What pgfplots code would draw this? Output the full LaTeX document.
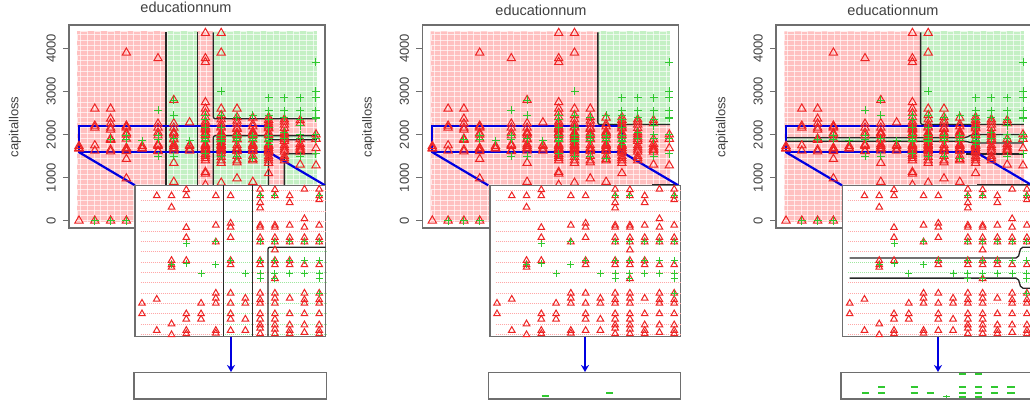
\documentclass[border=0pt]{standalone}
\usepackage{fontspec}
\setmainfont{Liberation Sans}
\usepackage{pgfplots}
\usepackage{pgfplotstable}
\pgfplotsset{compat=1.18}
\usetikzlibrary{arrows.meta}

\definecolor{palered}{HTML}{FFC0C0}
\definecolor{palegreen}{HTML}{C4F0C4}
\definecolor{rowred}{HTML}{FFA8A8}
\definecolor{rowgreen}{HTML}{A0E8A0}
\definecolor{ptred}{HTML}{EE2424}
\definecolor{ptgreen}{HTML}{30C830}
\definecolor{frame}{HTML}{6E6E6E}
\definecolor{txt}{HTML}{404040}
\definecolor{boxblue}{HTML}{0000E0}

% points inside the blue box, read from the enlarged view
\pgfplotstableread{
x y
1 1732
1 1690
2 2159
2 1748
2 1624
3 2159
3 2114
3 1902
3 1885
3 1875
3 1650
3 1607
4 2183
4 2159
4 2033
4 1993
4 1902
4 1690
4 1669
4 1624
4 1611
5 1732
5 1690
5 1669
6 2159
6 2042
6 1976
6 1772
6 1752
6 1732
6 1624
6 1613
7 2159
7 2050
7 2034
7 1993
7 1902
7 1885
7 1772
7 1732
7 1690
7 1669
7 1624
8 1752
8 1732
8 1669
8 1624
9 2185
9 2159
9 2132
9 2111
9 2042
9 2034
9 1993
9 1976
9 1902
9 1885
9 1772
9 1746
9 1732
9 1690
9 1669
9 1646
9 1633
9 1611
10 2183
10 2159
10 2042
10 2034
10 1993
10 1976
10 1944
10 1902
10 1885
10 1830
10 1772
10 1752
10 1732
10 1690
10 1669
10 1646
10 1629
10 1611
11 2159
11 2132
11 2042
11 1993
11 1976
11 1902
11 1885
11 1752
11 1690
11 1646
11 1624
11 1611
12 2185
12 2068
12 2034
12 1993
12 1976
12 1885
12 1772
12 1746
12 1732
12 1690
12 1646
12 1616
13 2185
13 2159
13 2143
13 2042
13 1993
13 1976
13 1885
13 1772
13 1746
13 1732
13 1690
13 1646
13 1624
13 1611
}\bandtri

\pgfplotstableread{
x y
3 1885
4 1971
4 1889
5 1852
6 1976
6 1885
7 1902
8 1852
9 2159
9 1976
9 1902
9 1852
9 1830
10 2159
10 1976
10 1902
10 1852
10 1830
11 1976
11 1902
11 1852
12 1976
12 1902
12 1852
13 2159
13 1976
13 1902
13 1852
13 1830
13 1772
}\bandplus

% points outside the box
\pgfplotstableread{
x y
1 0
1 1670
2 0
2 2600
2 2205
3 0
3 2600
3 2365
3 2256
4 0
4 3900
4 2205
4 1430
4 980
6 3770
6 2250
7 2800
7 2259
7 1340
7 900
8 2280
9 4356
9 3770
9 3680
9 2750
9 2600
9 2500
9 2400
9 2300
9 2250
9 1550
9 1500
9 1450
9 1400
9 1130
9 1090
9 830
10 4356
10 3900
10 2600
10 2450
10 2350
10 2250
10 1560
10 1480
10 1400
10 1340
10 880
11 2600
11 2400
11 2320
11 2250
11 1500
11 1400
11 1350
11 980
12 2390
12 2240
12 1500
12 1430
12 1400
12 900
13 2400
13 2340
13 2280
13 2230
13 1580
13 1500
13 1450
13 1400
13 1340
13 1100
14 2350
14 2300
14 2230
14 2150
14 2050
14 2000
14 1950
14 1900
14 1850
14 1750
14 1700
14 1650
14 1600
14 1500
14 1450
14 1400
15 2330
15 2260
15 1890
15 1780
15 1720
15 1670
15 1640
15 1600
15 1300
16 2000
16 1900
16 1680
16 1280
}\outtri

\pgfplotstableread{
x y
2 0
3 0
4 0
6 2560
6 1500
7 2800
7 2450
7 1500
9 2450
9 2350
9 1550
10 3000
10 2450
10 1500
11 2400
11 1500
12 2450
12 1450
13 2850
13 2550
13 2450
13 2350
14 2850
14 2550
14 2400
14 2050
14 1900
15 2850
15 2550
15 2350
15 2200
15 2000
15 1900
15 1500
16 3680
16 3000
16 2850
16 2550
16 2400
16 2380
16 2000
16 1900
16 1550
}\outplus

% white streaks of the prediction grid
\pgfplotstableread[row sep=\\]{
x y\\
1.10 -25\\1.10 4396\\1.52 4396\\1.52 -25\\1.94 -25\\1.94 4396\\2.36 4396\\2.36 -25\\2.78 -25\\2.78 4396\\
3.20 4396\\3.20 -25\\3.62 -25\\3.62 4396\\4.04 4396\\4.04 -25\\4.46 -25\\4.46 4396\\4.88 4396\\4.88 -25\\
5.30 -25\\5.30 4396\\5.72 4396\\5.72 -25\\6.14 -25\\6.14 4396\\6.56 4396\\6.56 -25\\6.98 -25\\6.98 4396\\
7.40 4396\\7.40 -25\\7.82 -25\\7.82 4396\\8.24 4396\\8.24 -25\\8.66 -25\\8.66 4396\\9.08 4396\\9.08 -25\\
9.50 -25\\9.50 4396\\9.92 4396\\9.92 -25\\10.34 -25\\10.34 4396\\10.76 4396\\10.76 -25\\11.18 -25\\11.18 4396\\
11.60 4396\\11.60 -25\\12.02 -25\\12.02 4396\\12.44 4396\\12.44 -25\\12.86 -25\\12.86 4396\\13.28 4396\\13.28 -25\\
13.70 -25\\13.70 4396\\14.12 4396\\14.12 -25\\14.54 -25\\14.54 4396\\14.96 4396\\14.96 -25\\15.38 -25\\15.38 4396\\
15.80 4396\\15.80 -25\\
}\gridv

\pgfplotstableread[row sep=\\]{
x y\\
0.9 0\\16.05 0\\16.05 120\\0.9 120\\0.9 240\\16.05 240\\16.05 360\\0.9 360\\0.9 480\\16.05 480\\
16.05 600\\0.9 600\\0.9 720\\16.05 720\\16.05 840\\0.9 840\\0.9 960\\16.05 960\\16.05 1080\\0.9 1080\\
0.9 1200\\16.05 1200\\16.05 1320\\0.9 1320\\0.9 1440\\16.05 1440\\16.05 1560\\0.9 1560\\0.9 1680\\16.05 1680\\
16.05 1800\\0.9 1800\\0.9 1920\\16.05 1920\\16.05 2040\\0.9 2040\\0.9 2160\\16.05 2160\\16.05 2280\\0.9 2280\\
0.9 2400\\16.05 2400\\16.05 2520\\0.9 2520\\0.9 2640\\16.05 2640\\16.05 2760\\0.9 2760\\0.9 2880\\16.05 2880\\
16.05 3000\\0.9 3000\\0.9 3120\\16.05 3120\\16.05 3240\\0.9 3240\\0.9 3360\\16.05 3360\\16.05 3480\\0.9 3480\\
0.9 3600\\16.05 3600\\16.05 3720\\0.9 3720\\0.9 3840\\16.05 3840\\16.05 3960\\0.9 3960\\0.9 4080\\16.05 4080\\
16.05 4200\\0.9 4200\\0.9 4320\\16.05 4320\\
}\gridh

% dotted rows of the enlarged view, one table per colour and panel
\pgfplotstableread[row sep=\\]{
x y\\
0.9 2180\\6.5 2180\\nan nan\\8.5 2180\\13.45 2180\\nan nan\\
0.9 2140\\6.5 2140\\nan nan\\8.5 2140\\13.45 2140\\nan nan\\
0.9 2098\\6.5 2098\\nan nan\\8.5 2098\\13.45 2098\\nan nan\\
0.9 2058\\6.5 2058\\nan nan\\8.5 2058\\13.45 2058\\nan nan\\
0.9 2019\\6.5 2019\\nan nan\\8.5 2019\\13.45 2019\\nan nan\\
0.9 1979\\6.5 1979\\nan nan\\8.5 1979\\13.45 1979\\nan nan\\
0.9 1936\\6.5 1936\\nan nan\\8.5 1936\\9.5 1936\\nan nan\\
0.9 1896\\6.5 1896\\nan nan\\8.5 1896\\9.5 1896\\nan nan\\
0.9 1854\\6.5 1854\\nan nan\\8.5 1854\\9.5 1854\\nan nan\\
0.9 1815\\6.5 1815\\nan nan\\8.5 1815\\9.5 1815\\nan nan\\
0.9 1772\\6.5 1772\\nan nan\\8.5 1772\\9.5 1772\\nan nan\\
0.9 1730\\6.5 1730\\nan nan\\8.5 1730\\9.5 1730\\nan nan\\
0.9 1690\\6.5 1690\\nan nan\\8.5 1690\\9.5 1690\\nan nan\\
0.9 1648\\6.5 1648\\nan nan\\8.5 1648\\9.5 1648\\nan nan\\
0.9 1608\\6.5 1608\\nan nan\\8.5 1608\\9.5 1608\\
}\rowsredA

\pgfplotstableread[row sep=\\]{
x y\\
6.5 2180\\8.5 2180\\nan nan\\6.5 2140\\8.5 2140\\nan nan\\6.5 2098\\8.5 2098\\nan nan\\
6.5 2058\\8.5 2058\\nan nan\\6.5 2019\\8.5 2019\\nan nan\\6.5 1979\\8.5 1979\\nan nan\\
6.5 1936\\8.5 1936\\nan nan\\9.5 1936\\13.45 1936\\nan nan\\
6.5 1896\\8.5 1896\\nan nan\\9.5 1896\\13.45 1896\\nan nan\\
6.5 1854\\8.5 1854\\nan nan\\9.5 1854\\13.45 1854\\nan nan\\
6.5 1815\\8.5 1815\\nan nan\\9.5 1815\\13.45 1815\\nan nan\\
6.5 1772\\8.5 1772\\nan nan\\9.5 1772\\13.45 1772\\nan nan\\
6.5 1730\\8.5 1730\\nan nan\\9.5 1730\\13.45 1730\\nan nan\\
6.5 1690\\8.5 1690\\nan nan\\9.5 1690\\13.45 1690\\nan nan\\
6.5 1648\\8.5 1648\\nan nan\\9.5 1648\\13.45 1648\\nan nan\\
6.5 1608\\8.5 1608\\nan nan\\9.5 1608\\13.45 1608\\
}\rowsgreenA

\pgfplotstableread[row sep=\\]{
x y\\
0.9 2180\\13.45 2180\\nan nan\\0.9 2140\\13.45 2140\\nan nan\\0.9 2098\\13.45 2098\\nan nan\\
0.9 2058\\13.45 2058\\nan nan\\0.9 2019\\13.45 2019\\nan nan\\0.9 1979\\13.45 1979\\nan nan\\
0.9 1936\\13.45 1936\\nan nan\\0.9 1896\\13.45 1896\\nan nan\\0.9 1854\\13.45 1854\\nan nan\\
0.9 1815\\13.45 1815\\nan nan\\0.9 1772\\13.45 1772\\nan nan\\0.9 1730\\13.45 1730\\nan nan\\
0.9 1690\\13.45 1690\\nan nan\\0.9 1648\\13.45 1648\\nan nan\\0.9 1608\\13.45 1608\\
}\rowsredB

\pgfplotstableread[row sep=\\]{
x y\\
0.9 2180\\13.45 2180\\nan nan\\0.9 2140\\13.45 2140\\nan nan\\0.9 2098\\13.45 2098\\nan nan\\
0.9 2058\\13.45 2058\\nan nan\\0.9 2019\\13.45 2019\\nan nan\\0.9 1979\\13.45 1979\\nan nan\\
0.9 1936\\12.5 1936\\nan nan\\0.9 1815\\12.5 1815\\nan nan\\
0.9 1772\\13.45 1772\\nan nan\\0.9 1730\\13.45 1730\\nan nan\\
0.9 1690\\13.45 1690\\nan nan\\0.9 1648\\13.45 1648\\nan nan\\0.9 1608\\13.45 1608\\
}\rowsredC

\pgfplotstableread[row sep=\\]{
x y\\
0.9 1896\\13.45 1896\\nan nan\\0.9 1854\\13.45 1854\\nan nan\\
12.5 1936\\13.45 1936\\nan nan\\12.5 1815\\13.45 1815\\
}\rowsgreenC

% squashed points of the bottom strips
\pgfplotstableread{
x y
5 1837
9 1855
}\stripB

\pgfplotstableread{
x y
3 1855
4 1892
4 1855
6 1892
6 1855
7 1855
8 1833
9 1973
9 1892
9 1855
9 1830
10 1973
10 1892
10 1855
10 1830
11 1892
11 1855
12 1892
12 1855
}\stripC

\pgfplotsset{
  panelaxis/.style={
    scale only axis,
    anchor=south west,
    clip=false,
    xtick=\empty,
    ytick=\empty,
    axis line style={draw=frame,line width=1.3pt},
    axis background/.style={fill=white},
    unbounded coords=jump,
  },
  tri/.style={only marks,mark=triangle,mark size=#1,
    mark options={draw=ptred,line width=1pt,fill=none}},
  cross/.style={only marks,mark=+,mark size=#1,
    mark options={draw=ptgreen,line width=1pt}},
  blob/.style={only marks,mark=+,mark size=3.6pt,
    mark options={draw=ptgreen,yscale=0.35,line width=1.3pt}},
  bline/.style={black!85,line width=1.3pt,rounded corners=2pt},
  bluebox/.style={boxblue,line width=2.2pt},
}

\newcommand{\region}[2]{\addplot[draw=none,fill=#1] coordinates {#2} --cycle;}

% #1 left edge of box, #2 title x, #3 title y, #4 regions, #5 black lines
\newcommand{\mainpanel}[5]{
  \node[font=\fontsize{14.5}{14.5}\selectfont,text=txt] at (#2pt,#3pt) {educationnum};
  \node[font=\fontsize{13}{13}\selectfont,text=txt,rotate=90] at (#1pt-54pt,279pt) {capitalloss};
  \begin{axis}[panelaxis,at={(#1pt,178pt)},width=256pt,height=203pt,
      xmin=0.367,xmax=16.57,ymin=-170,ymax=4544,
      ytick={0,1000,2000,3000,4000},
      tick align=outside,ytick pos=left,
      major tick length=6pt,
      ytick style={draw=frame,line width=1pt},
      /pgf/number format/assume math mode=true,
      /pgf/number format/1000 sep={},
      yticklabel style={rotate=90,anchor=south,font=\fontsize{13}{13}\selectfont,text=txt,inner sep=0pt,yshift=7pt}]
    #4
    \addplot[white,opacity=0.65,line width=0.45pt] table[x=x,y=y] {\gridv};
    \addplot[white,opacity=0.65,line width=0.45pt] table[x=x,y=y] {\gridh};
    \addplot[tri=4.8pt] table[x=x,y=y] {\outtri};
    \addplot[tri=4.8pt] table[x=x,y=y] {\bandtri};
    \addplot[cross=4pt] table[x=x,y=y] {\outplus};
    \addplot[cross=4pt] table[x=x,y=y] {\bandplus};
    #5
    \addplot[bluebox] coordinates {(1,1590) (13.02,1590) (13.02,2205) (1,2205)} --cycle;
    \addplot[bluebox] coordinates {(1,1590) (4.54,821)};
    \addplot[bluebox] coordinates {(13.02,1590) (16.57,821)};
  \end{axis}
}

% #1 left edge of enlarged view, #2 dotted rows and black lines
\newcommand{\insetpanel}[2]{
  \begin{axis}[panelaxis,at={(#1pt,69.5pt)},width=190.7pt,height=151pt,
      xmin=0.526,xmax=13.44,ymin=1600,ymax=2200]
    #2
    \addplot[tri=3.8pt] table[x=x,y=y] {\bandtri};
    \addplot[cross=3.5pt] table[x=x,y=y] {\bandplus};
  \end{axis}
}

% #1 left edge of strip, #2 arrow x, #3 points
\newcommand{\strippanel}[3]{
  \draw[boxblue,line width=2pt,-{Stealth[length=7pt,width=8pt]}] (#2pt,69pt) -- (#2pt,34pt);
  \begin{axis}[panelaxis,at={(#1pt,7pt)},width=192.5pt,height=26.7pt,
      xmin=1.468,xmax=13.4,ymin=1818,ymax=1984]
    #3
  \end{axis}
}

\newcommand{\rowsplot}[2]{\addplot[#1,line width=1pt,dash pattern=on 1pt off 1pt] table[x=x,y=y] {#2};}

\begin{document}
\begin{tikzpicture}
\useasboundingbox (0pt,0pt) rectangle (1030pt,406pt);

% left panel
\mainpanel{69}{186}{398.5}{
  \region{palered}{(0.9,-25) (6.5,-25) (6.5,4396) (0.9,4396)}
  \region{palegreen}{(6.5,-25) (8.5,-25) (8.5,4396) (6.5,4396)}
  \region{palered}{(8.5,-25) (9.5,-25) (9.5,4396) (8.5,4396)}
  \region{palegreen}{(9.5,2366) (16.05,2366) (16.05,4396) (9.5,4396)}
  \region{palered}{(9.5,1975) (16.05,1975) (16.05,2366) (9.5,2366)}
  \region{palegreen}{(9.5,-25) (13,-25) (13,1975) (9.5,1975)}
  \region{palered}{(13,-25) (14,-25) (14,1880) (13,1880)}
  \region{palegreen}{(13,1880) (16.05,1880) (16.05,1975) (13,1975)}
  \region{palered}{(14,1556) (16.05,1556) (16.05,1880) (14,1880)}
  \region{palegreen}{(14,-25) (16.05,-25) (16.05,1556) (14,1556)}
}{
  \addplot[bline] coordinates {(6.5,0) (6.5,4370)};
  \addplot[bline] coordinates {(8.5,0) (8.5,4370)};
  \addplot[bline] coordinates {(9.5,4370) (9.5,2366) (16.05,2366)};
  \addplot[bline] coordinates {(9.5,0) (9.5,1975) (16.05,1975)};
  \addplot[bline] coordinates {(13,0) (13,1880) (16.05,1880)};
  \addplot[bline] coordinates {(14,0) (14,1556) (16.05,1556)};
}
\insetpanel{135}{
  \rowsplot{rowred}{\rowsredA}
  \rowsplot{rowgreen}{\rowsgreenA}
  \addplot[bline] coordinates {(6.5,1600) (6.5,2200)};
  \addplot[bline] coordinates {(8.47,1600) (8.47,2200)};
  \addplot[bline] coordinates {(9.53,1600) (9.53,1955) (13.44,1955)};
}
\strippanel{134}{231}{}

% middle panel
\mainpanel{422.3}{541}{396}{
  \region{palered}{(0.9,-25) (16.05,-25) (16.05,2233) (11.48,2233) (11.48,4396) (0.9,4396)}
  \region{palegreen}{(11.48,2233) (16.05,2233) (16.05,4396) (11.48,4396)}
}{
  \addplot[bline] coordinates {(11.48,4370) (11.48,2233) (16.05,2233)};
  \addplot[bline] coordinates {(14.9,825) (16.57,825)};
}
\insetpanel{490}{
  \rowsplot{rowred}{\rowsredB}
}
\strippanel{488.3}{585}{
  \addplot[blob] table[x=x,y=y] {\stripB};
}

% right panel, runs past the edge of the picture
\mainpanel{776}{893}{396}{
  \region{palered}{(0.9,-25) (16.05,-25) (16.05,2233) (9.52,2233) (9.52,4396) (0.9,4396)}
  \region{palegreen}{(9.52,2233) (16.05,2233) (16.05,4396) (9.52,4396)}
  \region{palegreen}{(0.9,1845) (12.4,1845) (12.75,1805) (16.05,1805) (16.05,2000) (12.75,2000) (12.4,1925) (0.9,1925)}
}{
  \addplot[bline] coordinates {(9.52,4370) (9.52,2233) (16.05,2233)};
  \addplot[bline] coordinates {(1,1925) (12.4,1925) (12.75,2000) (16.05,2000)};
  \addplot[bline] coordinates {(1,1845) (12.4,1845) (12.75,1805) (16.05,1805)};
  \addplot[bline,line width=2pt] coordinates {(12.4,1556) (16.05,1556)};
  \addplot[bline] coordinates {(13.1,825) (16.57,825)};
}
\insetpanel{842.7}{
  \rowsplot{rowred}{\rowsredC}
  \rowsplot{rowgreen}{\rowsgreenC}
  \addplot[bline] coordinates {(1,1912) (12.4,1912) (12.6,1955) (13.44,1955)};
  \addplot[bline] coordinates {(1,1832) (12.4,1832) (12.6,1792) (13.44,1792)};
}
\strippanel{841}{938}{
  \addplot[blob] table[x=x,y=y] {\stripC};
}
\end{tikzpicture}
\end{document}
